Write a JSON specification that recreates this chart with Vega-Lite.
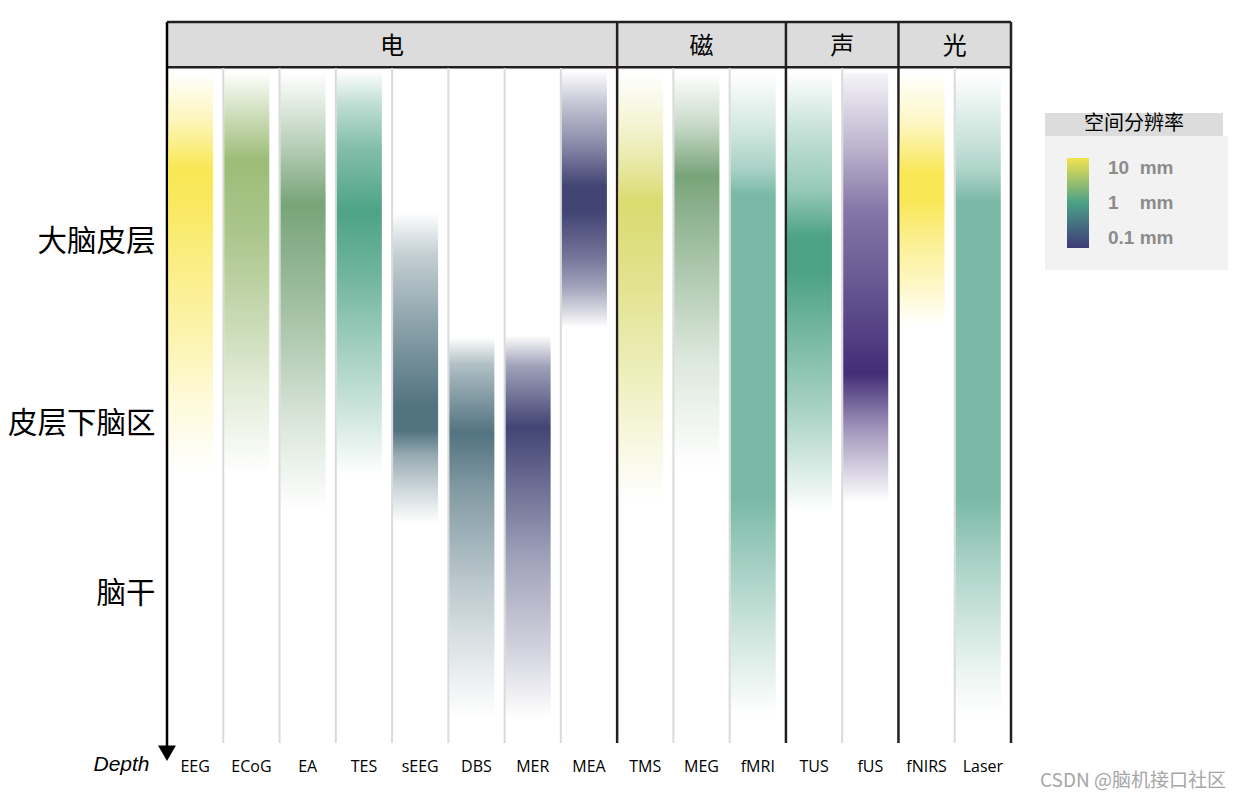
{
  "$schema": "https://vega.github.io/schema/vega-lite/v6.json",
  "width": 844,
  "height": 738,
  "autosize": {"type": "none"},
  "padding": {"left": 167, "top": 22, "right": 232, "bottom": 39},
  "background": "white",
  "config": {"view": {"stroke": null}, "font": "Noto Sans CJK SC"},
  "title": {"text": "CSDN @脑机接口社区", "orient": "bottom", "anchor": "end", "frame": "group", "dx": 215, "offset": -2, "fontSize": 19, "fontWeight": "normal", "color": "#a6a6a6", "font": "Noto Sans CJK SC"},
  "datasets": {
    "inst": [
      {"instrument": "EEG", "group": "电", "resolution": 10, "top": 0.7, "bottom": 59.9},
      {"instrument": "ECoG", "group": "电", "resolution": 4, "top": 0.7, "bottom": 60.1},
      {"instrument": "EA", "group": "电", "resolution": 2, "top": 0.7, "bottom": 65.6},
      {"instrument": "TES", "group": "电", "resolution": 1, "top": 0.4, "bottom": 60.4},
      {"instrument": "sEEG", "group": "电", "resolution": 0.5, "top": 21.3, "bottom": 67.6},
      {"instrument": "DBS", "group": "电", "resolution": 0.5, "top": 39.9, "bottom": 96.4},
      {"instrument": "MER", "group": "电", "resolution": 0.15, "top": 39.6, "bottom": 96.4},
      {"instrument": "MEA", "group": "电", "resolution": 0.15, "top": 0.4, "bottom": 38.4},
      {"instrument": "TMS", "group": "磁", "resolution": 6, "top": 0.7, "bottom": 64.3},
      {"instrument": "MEG", "group": "磁", "resolution": 2, "top": 0.7, "bottom": 59.3},
      {"instrument": "fMRI", "group": "磁", "resolution": 1.5, "top": 0.7, "bottom": 95.9},
      {"instrument": "TUS", "group": "声", "resolution": 1, "top": 0.7, "bottom": 65.9},
      {"instrument": "fUS", "group": "声", "resolution": 0.1, "top": 0.7, "bottom": 64.3},
      {"instrument": "fNIRS", "group": "光", "resolution": 10, "top": 0.7, "bottom": 38.1},
      {"instrument": "Laser", "group": "光", "resolution": 1.5, "top": 0.7, "bottom": 96.0}
    ],
    "groups": [
      {"group": "电", "anchor": "sEEG"},
      {"group": "磁", "anchor": "MEG"},
      {"group": "声", "anchor": "fUS"},
      {"group": "光", "anchor": "Laser"}
    ]
  },
  "layer": [
    {
      "data": {"values": [{}]},
      "mark": {"type": "rect", "color": "#dcdcdc"},
      "encoding": {
        "y": {"datum": -6.8, "type": "quantitative",
          "scale": {"domain": [-6.8, 102.5], "nice": false, "zero": false, "reverse": true},
          "axis": {"title": "Depth", "orient": "left", "values": [25.7, 52.6, 77.8],
            "labelExpr": "datum.value < 40 ? '大脑皮层' : (datum.value < 65 ? '皮层下脑区' : '脑干')",
            "domain": false, "ticks": false, "grid": false,
            "labelFont": "Noto Sans CJK SC", "labelFontSize": 29.5, "labelColor": "#000000", "labelPadding": 12,
            "labelBaseline": "middle", "labelOverlap": false,
            "titleAngle": 0, "titleX": -74, "titleY": 748, "titleAlign": "left", "titleBaseline": "alphabetic",
            "titleFont": "Liberation Sans", "titleFontSize": 21, "titleFontStyle": "italic", "titleFontWeight": "normal", "titleColor": "#000000"}},
        "y2": {"datum": 0}
      }
    },
    {
      "data": {"values": [{}]},
      "mark": {"type": "rule", "color": "#231f20", "strokeWidth": 2.5},
      "encoding": {"y": {"datum": -6.8, "type": "quantitative", "scale": {"domain": [-6.8, 102.5], "nice": false, "zero": false, "reverse": true}}}
    },
    {
      "data": {"values": [{}]},
      "mark": {"type": "rule", "color": "#231f20", "strokeWidth": 2.5},
      "encoding": {"y": {"datum": -0.1, "type": "quantitative", "scale": {"domain": [-6.8, 102.5], "nice": false, "zero": false, "reverse": true}}}
    },
    {
      "data": {"name": "inst"},
      "transform": [{"filter": "indexof(['EEG','TMS','TUS','fNIRS'], datum.instrument) < 0"}],
      "mark": {"type": "rule", "color": "#dadada", "strokeWidth": 2},
      "encoding": {
        "x": {"field": "instrument", "type": "nominal", "bandPosition": 0,
          "scale": {"domain": ["EEG","ECoG","EA","TES","sEEG","DBS","MER","MEA","TMS","MEG","fMRI","TUS","fUS","fNIRS","Laser"], "paddingInner": 0, "paddingOuter": 0},
          "axis": {"title": null, "orient": "bottom", "domain": false, "ticks": false, "grid": false, "labelAngle": 0,
            "labelFont": "Open Sans", "labelFontSize": 16, "labelColor": "#000000", "labelPadding": -2}},
        "y": {"datum": 0, "type": "quantitative", "scale": {"domain": [-6.8, 102.5], "nice": false, "zero": false, "reverse": true}},
        "y2": {"datum": 100}
      }
    },
    {
      "data": {"name": "inst"},
      "transform": [{"filter": "indexof(['TMS','TUS','fNIRS'], datum.instrument) >= 0"}],
      "mark": {"type": "rule", "color": "#231f20", "strokeWidth": 2.5},
      "encoding": {
        "x": {"field": "instrument", "type": "nominal", "bandPosition": 0,
          "scale": {"domain": ["EEG","ECoG","EA","TES","sEEG","DBS","MER","MEA","TMS","MEG","fMRI","TUS","fUS","fNIRS","Laser"], "paddingInner": 0, "paddingOuter": 0}},
        "y": {"datum": -6.8, "type": "quantitative", "scale": {"domain": [-6.8, 102.5], "nice": false, "zero": false, "reverse": true}},
        "y2": {"datum": 100}
      }
    },
    {
      "data": {"name": "inst"},
      "transform": [{"filter": "datum.instrument === 'Laser'"}],
      "mark": {"type": "rule", "color": "#231f20", "strokeWidth": 2.5},
      "encoding": {
        "x": {"field": "instrument", "type": "nominal", "bandPosition": 1,
          "scale": {"domain": ["EEG","ECoG","EA","TES","sEEG","DBS","MER","MEA","TMS","MEG","fMRI","TUS","fUS","fNIRS","Laser"], "paddingInner": 0, "paddingOuter": 0}},
        "y": {"datum": -6.8, "type": "quantitative", "scale": {"domain": [-6.8, 102.5], "nice": false, "zero": false, "reverse": true}},
        "y2": {"datum": 100}
      }
    },
    {
      "data": {"name": "inst"},
      "transform": [{"filter": "datum.instrument === 'EEG'"}],
      "mark": {"type": "rule", "color": "#000000", "strokeWidth": 2.5},
      "encoding": {
        "x": {"field": "instrument", "type": "nominal", "bandPosition": 0,
          "scale": {"domain": ["EEG","ECoG","EA","TES","sEEG","DBS","MER","MEA","TMS","MEG","fMRI","TUS","fUS","fNIRS","Laser"], "paddingInner": 0, "paddingOuter": 0}},
        "y": {"datum": -6.8, "type": "quantitative", "scale": {"domain": [-6.8, 102.5], "nice": false, "zero": false, "reverse": true}},
        "y2": {"datum": 101}
      }
    },
    {
      "data": {"name": "inst"},
      "transform": [{"filter": "datum.instrument === 'EEG'"}],
      "mark": {"type": "point", "shape": "triangle-down", "filled": true, "color": "#000000", "opacity": 1, "size": 320},
      "encoding": {
        "x": {"field": "instrument", "type": "nominal", "bandPosition": 0,
          "scale": {"domain": ["EEG","ECoG","EA","TES","sEEG","DBS","MER","MEA","TMS","MEG","fMRI","TUS","fUS","fNIRS","Laser"], "paddingInner": 0, "paddingOuter": 0}},
        "y": {"datum": 101.5, "type": "quantitative", "scale": {"domain": [-6.8, 102.5], "nice": false, "zero": false, "reverse": true}}
      }
    },
    {
      "data": {"name": "groups"},
      "transform": [{"filter": "datum.anchor !== 'MEG'"}],
      "mark": {"type": "text", "fontSize": 24, "font": "Noto Sans CJK SC", "color": "#000000", "baseline": "middle", "align": "center"},
      "encoding": {
        "x": {"field": "anchor", "type": "nominal", "bandPosition": 0,
          "scale": {"domain": ["EEG","ECoG","EA","TES","sEEG","DBS","MER","MEA","TMS","MEG","fMRI","TUS","fUS","fNIRS","Laser"], "paddingInner": 0, "paddingOuter": 0}},
        "y": {"datum": -3.1, "type": "quantitative", "scale": {"domain": [-6.8, 102.5], "nice": false, "zero": false, "reverse": true}},
        "text": {"field": "group"}
      }
    },
    {
      "data": {"name": "groups"},
      "transform": [{"filter": "datum.anchor === 'MEG'"}],
      "mark": {"type": "text", "fontSize": 24, "font": "Noto Sans CJK SC", "color": "#000000", "baseline": "middle", "align": "center"},
      "encoding": {
        "x": {"field": "anchor", "type": "nominal", "bandPosition": 0.5,
          "scale": {"domain": ["EEG","ECoG","EA","TES","sEEG","DBS","MER","MEA","TMS","MEG","fMRI","TUS","fUS","fNIRS","Laser"], "paddingInner": 0, "paddingOuter": 0}},
        "y": {"datum": -3.1, "type": "quantitative", "scale": {"domain": [-6.8, 102.5], "nice": false, "zero": false, "reverse": true}},
        "text": {"field": "group"}
      }
    },
    {
      "data": {"name": "inst"}, "transform": [{"filter": "datum.instrument === 'EEG'"}],
      "mark": {"type": "bar", "width": {"band": 0.8}, "xOffset": -4.6, "color": {"gradient": "linear", "x1": 0, "y1": 0, "x2": 0, "y2": 1, "stops": [
        {"offset": 0, "color": "rgba(249,231,85,0)"}, {"offset": 0.12, "color": "rgba(249,231,85,0.4)"}, {"offset": 0.24, "color": "rgba(249,231,85,1)"},
        {"offset": 0.32, "color": "rgba(249,231,85,0.95)"}, {"offset": 0.49, "color": "rgba(249,231,85,0.7)"}, {"offset": 0.64, "color": "rgba(249,231,85,0.5)"},
        {"offset": 0.82, "color": "rgba(249,231,85,0.22)"}, {"offset": 1, "color": "rgba(249,231,85,0)"}]}},
      "encoding": {"x": {"field": "instrument", "type": "nominal", "scale": {"domain": ["EEG","ECoG","EA","TES","sEEG","DBS","MER","MEA","TMS","MEG","fMRI","TUS","fUS","fNIRS","Laser"], "paddingInner": 0, "paddingOuter": 0}},
        "y": {"field": "top", "type": "quantitative", "scale": {"domain": [-6.8, 102.5], "nice": false, "zero": false, "reverse": true}}, "y2": {"field": "bottom"}}
    },
    {
      "data": {"name": "inst"}, "transform": [{"filter": "datum.instrument === 'ECoG'"}],
      "mark": {"type": "bar", "width": {"band": 0.8}, "xOffset": -4.6, "color": {"gradient": "linear", "x1": 0, "y1": 0, "x2": 0, "y2": 1, "stops": [
        {"offset": 0, "color": "rgba(156,188,119,0)"}, {"offset": 0.06, "color": "rgba(156,188,119,0.3)"}, {"offset": 0.15, "color": "rgba(156,188,119,0.7)"},
        {"offset": 0.22, "color": "rgba(156,188,119,1)"}, {"offset": 0.4, "color": "rgba(156,188,119,0.85)"}, {"offset": 0.62, "color": "rgba(156,188,119,0.55)"},
        {"offset": 0.78, "color": "rgba(156,188,119,0.3)"}, {"offset": 1, "color": "rgba(156,188,119,0)"}]}},
      "encoding": {"x": {"field": "instrument", "type": "nominal", "scale": {"domain": ["EEG","ECoG","EA","TES","sEEG","DBS","MER","MEA","TMS","MEG","fMRI","TUS","fUS","fNIRS","Laser"], "paddingInner": 0, "paddingOuter": 0}},
        "y": {"field": "top", "type": "quantitative", "scale": {"domain": [-6.8, 102.5], "nice": false, "zero": false, "reverse": true}}, "y2": {"field": "bottom"}}
    },
    {
      "data": {"name": "inst"}, "transform": [{"filter": "datum.instrument === 'EA'"}],
      "mark": {"type": "bar", "width": {"band": 0.8}, "xOffset": -4.6, "color": {"gradient": "linear", "x1": 0, "y1": 0, "x2": 0, "y2": 1, "stops": [
        {"offset": 0, "color": "rgba(120,164,121,0)"}, {"offset": 0.08, "color": "rgba(120,164,121,0.25)"}, {"offset": 0.17, "color": "rgba(120,164,121,0.55)"},
        {"offset": 0.3, "color": "rgba(120,164,121,1)"}, {"offset": 0.47, "color": "rgba(120,164,121,0.78)"}, {"offset": 0.66, "color": "rgba(120,164,121,0.5)"},
        {"offset": 0.81, "color": "rgba(120,164,121,0.25)"}, {"offset": 1, "color": "rgba(120,164,121,0)"}]}},
      "encoding": {"x": {"field": "instrument", "type": "nominal", "scale": {"domain": ["EEG","ECoG","EA","TES","sEEG","DBS","MER","MEA","TMS","MEG","fMRI","TUS","fUS","fNIRS","Laser"], "paddingInner": 0, "paddingOuter": 0}},
        "y": {"field": "top", "type": "quantitative", "scale": {"domain": [-6.8, 102.5], "nice": false, "zero": false, "reverse": true}}, "y2": {"field": "bottom"}}
    },
    {
      "data": {"name": "inst"}, "transform": [{"filter": "datum.instrument === 'TES'"}],
      "mark": {"type": "bar", "width": {"band": 0.8}, "xOffset": -4.6, "color": {"gradient": "linear", "x1": 0, "y1": 0, "x2": 0, "y2": 1, "stops": [
        {"offset": 0, "color": "rgba(78,163,135,0)"}, {"offset": 0.08, "color": "rgba(78,163,135,0.35)"}, {"offset": 0.19, "color": "rgba(78,163,135,0.7)"},
        {"offset": 0.35, "color": "rgba(78,163,135,1)"}, {"offset": 0.51, "color": "rgba(78,163,135,0.8)"}, {"offset": 0.67, "color": "rgba(78,163,135,0.55)"},
        {"offset": 0.83, "color": "rgba(78,163,135,0.3)"}, {"offset": 1, "color": "rgba(78,163,135,0)"}]}},
      "encoding": {"x": {"field": "instrument", "type": "nominal", "scale": {"domain": ["EEG","ECoG","EA","TES","sEEG","DBS","MER","MEA","TMS","MEG","fMRI","TUS","fUS","fNIRS","Laser"], "paddingInner": 0, "paddingOuter": 0}},
        "y": {"field": "top", "type": "quantitative", "scale": {"domain": [-6.8, 102.5], "nice": false, "zero": false, "reverse": true}}, "y2": {"field": "bottom"}}
    },
    {
      "data": {"name": "inst"}, "transform": [{"filter": "datum.instrument === 'sEEG'"}],
      "mark": {"type": "bar", "width": {"band": 0.8}, "xOffset": -4.6, "color": {"gradient": "linear", "x1": 0, "y1": 0, "x2": 0, "y2": 1, "stops": [
        {"offset": 0, "color": "rgba(82,115,128,0)"}, {"offset": 0.14, "color": "rgba(82,115,128,0.35)"}, {"offset": 0.35, "color": "rgba(82,115,128,0.65)"},
        {"offset": 0.62, "color": "rgba(82,115,128,1)"}, {"offset": 0.7, "color": "rgba(82,115,128,1)"}, {"offset": 0.78, "color": "rgba(82,115,128,0.6)"},
        {"offset": 0.9, "color": "rgba(82,115,128,0.25)"}, {"offset": 1, "color": "rgba(82,115,128,0)"}]}},
      "encoding": {"x": {"field": "instrument", "type": "nominal", "scale": {"domain": ["EEG","ECoG","EA","TES","sEEG","DBS","MER","MEA","TMS","MEG","fMRI","TUS","fUS","fNIRS","Laser"], "paddingInner": 0, "paddingOuter": 0}},
        "y": {"field": "top", "type": "quantitative", "scale": {"domain": [-6.8, 102.5], "nice": false, "zero": false, "reverse": true}}, "y2": {"field": "bottom"}}
    },
    {
      "data": {"name": "inst"}, "transform": [{"filter": "datum.instrument === 'DBS'"}],
      "mark": {"type": "bar", "width": {"band": 0.8}, "xOffset": -4.6, "color": {"gradient": "linear", "x1": 0, "y1": 0, "x2": 0, "y2": 1, "stops": [
        {"offset": 0, "color": "rgba(82,115,128,0)"}, {"offset": 0.07, "color": "rgba(82,115,128,0.45)"}, {"offset": 0.25, "color": "rgba(82,115,128,1)"},
        {"offset": 0.41, "color": "rgba(82,115,128,0.7)"}, {"offset": 0.64, "color": "rgba(82,115,128,0.4)"}, {"offset": 0.81, "color": "rgba(82,115,128,0.2)"},
        {"offset": 1, "color": "rgba(82,115,128,0)"}]}},
      "encoding": {"x": {"field": "instrument", "type": "nominal", "scale": {"domain": ["EEG","ECoG","EA","TES","sEEG","DBS","MER","MEA","TMS","MEG","fMRI","TUS","fUS","fNIRS","Laser"], "paddingInner": 0, "paddingOuter": 0}},
        "y": {"field": "top", "type": "quantitative", "scale": {"domain": [-6.8, 102.5], "nice": false, "zero": false, "reverse": true}}, "y2": {"field": "bottom"}}
    },
    {
      "data": {"name": "inst"}, "transform": [{"filter": "datum.instrument === 'MER'"}],
      "mark": {"type": "bar", "width": {"band": 0.8}, "xOffset": -4.6, "color": {"gradient": "linear", "x1": 0, "y1": 0, "x2": 0, "y2": 1, "stops": [
        {"offset": 0, "color": "rgba(66,68,116,0)"}, {"offset": 0.08, "color": "rgba(66,68,116,0.5)"}, {"offset": 0.24, "color": "rgba(66,68,116,1)"},
        {"offset": 0.41, "color": "rgba(66,68,116,0.75)"}, {"offset": 0.58, "color": "rgba(66,68,116,0.5)"}, {"offset": 0.81, "color": "rgba(66,68,116,0.25)"},
        {"offset": 1, "color": "rgba(66,68,116,0)"}]}},
      "encoding": {"x": {"field": "instrument", "type": "nominal", "scale": {"domain": ["EEG","ECoG","EA","TES","sEEG","DBS","MER","MEA","TMS","MEG","fMRI","TUS","fUS","fNIRS","Laser"], "paddingInner": 0, "paddingOuter": 0}},
        "y": {"field": "top", "type": "quantitative", "scale": {"domain": [-6.8, 102.5], "nice": false, "zero": false, "reverse": true}}, "y2": {"field": "bottom"}}
    },
    {
      "data": {"name": "inst"}, "transform": [{"filter": "datum.instrument === 'MEA'"}],
      "mark": {"type": "bar", "width": {"band": 0.8}, "xOffset": -4.6, "color": {"gradient": "linear", "x1": 0, "y1": 0, "x2": 0, "y2": 1, "stops": [
        {"offset": 0, "color": "rgba(66,68,116,0)"}, {"offset": 0.125, "color": "rgba(66,68,116,0.3)"}, {"offset": 0.3, "color": "rgba(66,68,116,0.65)"},
        {"offset": 0.45, "color": "rgba(66,68,116,1)"}, {"offset": 0.55, "color": "rgba(66,68,116,1)"}, {"offset": 0.72, "color": "rgba(66,68,116,0.75)"},
        {"offset": 0.84, "color": "rgba(66,68,116,0.5)"}, {"offset": 0.94, "color": "rgba(66,68,116,0.2)"}, {"offset": 1, "color": "rgba(66,68,116,0)"}]}},
      "encoding": {"x": {"field": "instrument", "type": "nominal", "scale": {"domain": ["EEG","ECoG","EA","TES","sEEG","DBS","MER","MEA","TMS","MEG","fMRI","TUS","fUS","fNIRS","Laser"], "paddingInner": 0, "paddingOuter": 0}},
        "y": {"field": "top", "type": "quantitative", "scale": {"domain": [-6.8, 102.5], "nice": false, "zero": false, "reverse": true}}, "y2": {"field": "bottom"}}
    },
    {
      "data": {"name": "inst"}, "transform": [{"filter": "datum.instrument === 'TMS'"}],
      "mark": {"type": "bar", "width": {"band": 0.8}, "xOffset": -4.6, "color": {"gradient": "linear", "x1": 0, "y1": 0, "x2": 0, "y2": 1, "stops": [
        {"offset": 0, "color": "rgba(218,219,112,0)"}, {"offset": 0.12, "color": "rgba(218,219,112,0.3)"}, {"offset": 0.22, "color": "rgba(218,219,112,0.65)"},
        {"offset": 0.3, "color": "rgba(218,219,112,1)"}, {"offset": 0.48, "color": "rgba(218,219,112,0.8)"}, {"offset": 0.68, "color": "rgba(218,219,112,0.5)"},
        {"offset": 0.83, "color": "rgba(218,219,112,0.25)"}, {"offset": 1, "color": "rgba(218,219,112,0)"}]}},
      "encoding": {"x": {"field": "instrument", "type": "nominal", "scale": {"domain": ["EEG","ECoG","EA","TES","sEEG","DBS","MER","MEA","TMS","MEG","fMRI","TUS","fUS","fNIRS","Laser"], "paddingInner": 0, "paddingOuter": 0}},
        "y": {"field": "top", "type": "quantitative", "scale": {"domain": [-6.8, 102.5], "nice": false, "zero": false, "reverse": true}}, "y2": {"field": "bottom"}}
    },
    {
      "data": {"name": "inst"}, "transform": [{"filter": "datum.instrument === 'MEG'"}],
      "mark": {"type": "bar", "width": {"band": 0.8}, "xOffset": -4.6, "color": {"gradient": "linear", "x1": 0, "y1": 0, "x2": 0, "y2": 1, "stops": [
        {"offset": 0, "color": "rgba(120,164,121,0)"}, {"offset": 0.13, "color": "rgba(120,164,121,0.4)"}, {"offset": 0.26, "color": "rgba(120,164,121,1)"},
        {"offset": 0.41, "color": "rgba(120,164,121,0.75)"}, {"offset": 0.57, "color": "rgba(120,164,121,0.5)"}, {"offset": 0.73, "color": "rgba(120,164,121,0.25)"},
        {"offset": 1, "color": "rgba(120,164,121,0)"}]}},
      "encoding": {"x": {"field": "instrument", "type": "nominal", "scale": {"domain": ["EEG","ECoG","EA","TES","sEEG","DBS","MER","MEA","TMS","MEG","fMRI","TUS","fUS","fNIRS","Laser"], "paddingInner": 0, "paddingOuter": 0}},
        "y": {"field": "top", "type": "quantitative", "scale": {"domain": [-6.8, 102.5], "nice": false, "zero": false, "reverse": true}}, "y2": {"field": "bottom"}}
    },
    {
      "data": {"name": "inst"}, "transform": [{"filter": "datum.instrument === 'fMRI'"}],
      "mark": {"type": "bar", "width": {"band": 0.8}, "xOffset": -4.6, "color": {"gradient": "linear", "x1": 0, "y1": 0, "x2": 0, "y2": 1, "stops": [
        {"offset": 0, "color": "rgba(122,185,166,0)"}, {"offset": 0.08, "color": "rgba(122,185,166,0.3)"}, {"offset": 0.15, "color": "rgba(122,185,166,0.65)"},
        {"offset": 0.19, "color": "rgba(122,185,166,1)"}, {"offset": 0.66, "color": "rgba(122,185,166,1)"}, {"offset": 0.76, "color": "rgba(122,185,166,0.7)"},
        {"offset": 0.86, "color": "rgba(122,185,166,0.4)"}, {"offset": 0.93, "color": "rgba(122,185,166,0.2)"}, {"offset": 1, "color": "rgba(122,185,166,0)"}]}},
      "encoding": {"x": {"field": "instrument", "type": "nominal", "scale": {"domain": ["EEG","ECoG","EA","TES","sEEG","DBS","MER","MEA","TMS","MEG","fMRI","TUS","fUS","fNIRS","Laser"], "paddingInner": 0, "paddingOuter": 0}},
        "y": {"field": "top", "type": "quantitative", "scale": {"domain": [-6.8, 102.5], "nice": false, "zero": false, "reverse": true}}, "y2": {"field": "bottom"}}
    },
    {
      "data": {"name": "inst"}, "transform": [{"filter": "datum.instrument === 'TUS'"}],
      "mark": {"type": "bar", "width": {"band": 0.8}, "xOffset": -4.6, "color": {"gradient": "linear", "x1": 0, "y1": 0, "x2": 0, "y2": 1, "stops": [
        {"offset": 0, "color": "rgba(78,163,135,0)"}, {"offset": 0.12, "color": "rgba(78,163,135,0.3)"}, {"offset": 0.27, "color": "rgba(78,163,135,0.6)"},
        {"offset": 0.37, "color": "rgba(78,163,135,1)"}, {"offset": 0.46, "color": "rgba(78,163,135,1)"}, {"offset": 0.61, "color": "rgba(78,163,135,0.75)"},
        {"offset": 0.76, "color": "rgba(78,163,135,0.5)"}, {"offset": 0.86, "color": "rgba(78,163,135,0.3)"}, {"offset": 1, "color": "rgba(78,163,135,0)"}]}},
      "encoding": {"x": {"field": "instrument", "type": "nominal", "scale": {"domain": ["EEG","ECoG","EA","TES","sEEG","DBS","MER","MEA","TMS","MEG","fMRI","TUS","fUS","fNIRS","Laser"], "paddingInner": 0, "paddingOuter": 0}},
        "y": {"field": "top", "type": "quantitative", "scale": {"domain": [-6.8, 102.5], "nice": false, "zero": false, "reverse": true}}, "y2": {"field": "bottom"}}
    },
    {
      "data": {"name": "inst"}, "transform": [{"filter": "datum.instrument === 'fUS'"}],
      "mark": {"type": "bar", "width": {"band": 0.8}, "xOffset": -4.6, "color": {"gradient": "linear", "x1": 0, "y1": 0, "x2": 0, "y2": 1, "stops": [
        {"offset": 0, "color": "rgba(67,45,119,0.05)"}, {"offset": 0.17, "color": "rgba(67,45,119,0.35)"}, {"offset": 0.32, "color": "rgba(67,45,119,0.65)"},
        {"offset": 0.47, "color": "rgba(67,45,119,0.78)"}, {"offset": 0.7, "color": "rgba(67,45,119,1)"}, {"offset": 0.83, "color": "rgba(67,45,119,0.5)"},
        {"offset": 0.93, "color": "rgba(67,45,119,0.2)"}, {"offset": 1, "color": "rgba(67,45,119,0)"}]}},
      "encoding": {"x": {"field": "instrument", "type": "nominal", "scale": {"domain": ["EEG","ECoG","EA","TES","sEEG","DBS","MER","MEA","TMS","MEG","fMRI","TUS","fUS","fNIRS","Laser"], "paddingInner": 0, "paddingOuter": 0}},
        "y": {"field": "top", "type": "quantitative", "scale": {"domain": [-6.8, 102.5], "nice": false, "zero": false, "reverse": true}}, "y2": {"field": "bottom"}}
    },
    {
      "data": {"name": "inst"}, "transform": [{"filter": "datum.instrument === 'fNIRS'"}],
      "mark": {"type": "bar", "width": {"band": 0.8}, "xOffset": -4.6, "color": {"gradient": "linear", "x1": 0, "y1": 0, "x2": 0, "y2": 1, "stops": [
        {"offset": 0, "color": "rgba(249,231,85,0)"}, {"offset": 0.2, "color": "rgba(249,231,85,0.35)"}, {"offset": 0.4, "color": "rgba(249,231,85,1)"},
        {"offset": 0.5, "color": "rgba(249,231,85,1)"}, {"offset": 0.69, "color": "rgba(249,231,85,0.6)"}, {"offset": 0.86, "color": "rgba(249,231,85,0.3)"},
        {"offset": 1, "color": "rgba(249,231,85,0)"}]}},
      "encoding": {"x": {"field": "instrument", "type": "nominal", "scale": {"domain": ["EEG","ECoG","EA","TES","sEEG","DBS","MER","MEA","TMS","MEG","fMRI","TUS","fUS","fNIRS","Laser"], "paddingInner": 0, "paddingOuter": 0}},
        "y": {"field": "top", "type": "quantitative", "scale": {"domain": [-6.8, 102.5], "nice": false, "zero": false, "reverse": true}}, "y2": {"field": "bottom"}}
    },
    {
      "data": {"name": "inst"}, "transform": [{"filter": "datum.instrument === 'Laser'"}],
      "mark": {"type": "bar", "width": {"band": 0.8}, "xOffset": -4.6, "color": {"gradient": "linear", "x1": 0, "y1": 0, "x2": 0, "y2": 1, "stops": [
        {"offset": 0, "color": "rgba(122,185,166,0)"}, {"offset": 0.08, "color": "rgba(122,185,166,0.3)"}, {"offset": 0.15, "color": "rgba(122,185,166,0.6)"},
        {"offset": 0.2, "color": "rgba(122,185,166,1)"}, {"offset": 0.66, "color": "rgba(122,185,166,1)"}, {"offset": 0.76, "color": "rgba(122,185,166,0.65)"},
        {"offset": 0.86, "color": "rgba(122,185,166,0.35)"}, {"offset": 0.93, "color": "rgba(122,185,166,0.15)"}, {"offset": 1, "color": "rgba(122,185,166,0)"}]}},
      "encoding": {"x": {"field": "instrument", "type": "nominal", "scale": {"domain": ["EEG","ECoG","EA","TES","sEEG","DBS","MER","MEA","TMS","MEG","fMRI","TUS","fUS","fNIRS","Laser"], "paddingInner": 0, "paddingOuter": 0}},
        "y": {"field": "top", "type": "quantitative", "scale": {"domain": [-6.8, 102.5], "nice": false, "zero": false, "reverse": true}}, "y2": {"field": "bottom"}}
    },
    {
      "data": {"name": "inst"},
      "mark": {"type": "point", "size": 0, "filled": true, "opacity": 1},
      "encoding": {
        "x": {"field": "instrument", "type": "nominal", "scale": {"domain": ["EEG","ECoG","EA","TES","sEEG","DBS","MER","MEA","TMS","MEG","fMRI","TUS","fUS","fNIRS","Laser"], "paddingInner": 0, "paddingOuter": 0}},
        "y": {"field": "top", "type": "quantitative", "scale": {"domain": [-6.8, 102.5], "nice": false, "zero": false, "reverse": true}},
        "color": {"field": "resolution", "type": "quantitative",
          "scale": {"type": "log", "domain": [0.05, 1, 20], "range": ["#3f3a78", "#4ba087", "#f3e350"], "interpolate": "rgb"},
          "legend": {"title": null, "orient": "none", "legendX": 878, "legendY": 114, "type": "gradient", "direction": "vertical",
            "values": [0.1, 1, 10],
            "labelExpr": "datum.value > 5 ? '10\u00a0\u00a0mm\u00a0\u00a0\u00a0\u00a0\u00a0\u00a0\u200b' : (datum.value > 0.5 ? '1\u00a0\u00a0\u00a0\u00a0mm\u00a0\u00a0\u00a0\u00a0\u00a0\u00a0\u200b' : '0.1\u00a0mm\u00a0\u00a0\u00a0\u00a0\u00a0\u00a0\u200b')",
            "gradientLength": 90, "gradientThickness": 22, "gradientStrokeWidth": 0,
            "labelFont": "Liberation Sans", "labelFontSize": 19, "labelFontWeight": "bold", "labelColor": "#8c8c8c", "labelOffset": 19, "labelOverlap": false,
            "padding": 22, "fillColor": "#f2f2f2"}
        }
      }
    },
    {
      "data": {"values": [{}]},
      "mark": {"type": "point", "size": 0, "filled": true, "opacity": 1},
      "encoding": {
        "x": {"datum": "EEG", "type": "nominal", "scale": {"domain": ["EEG","ECoG","EA","TES","sEEG","DBS","MER","MEA","TMS","MEG","fMRI","TUS","fUS","fNIRS","Laser"], "paddingInner": 0, "paddingOuter": 0}},
        "y": {"datum": 10, "type": "quantitative", "scale": {"domain": [-6.8, 102.5], "nice": false, "zero": false, "reverse": true}},
        "shape": {"datum": "空间分辨率", "type": "nominal", "scale": {"range": ["circle"]},
          "legend": {"title": "\u200b\u3000\u00a0\u00a0\u00a0\u00a0空间分辨率\u3000\u00a0\u00a0\u00a0\u00a0\u200b", "orient": "none", "legendX": 878, "legendY": 91,
            "titleFont": "Noto Sans CJK SC", "titleFontSize": 20, "titleFontWeight": "normal", "titleColor": "#000000", "titleAnchor": "middle", "titlePadding": 0,
            "padding": 1, "fillColor": "#dcdcdc",
            "symbolSize": 0, "symbolOpacity": 0, "symbolStrokeWidth": 0, "symbolOffset": 0,
            "labelExpr": "''", "labelFontSize": 1, "labelOffset": 0, "rowPadding": 0}
        }
      }
    }
  ]
}
